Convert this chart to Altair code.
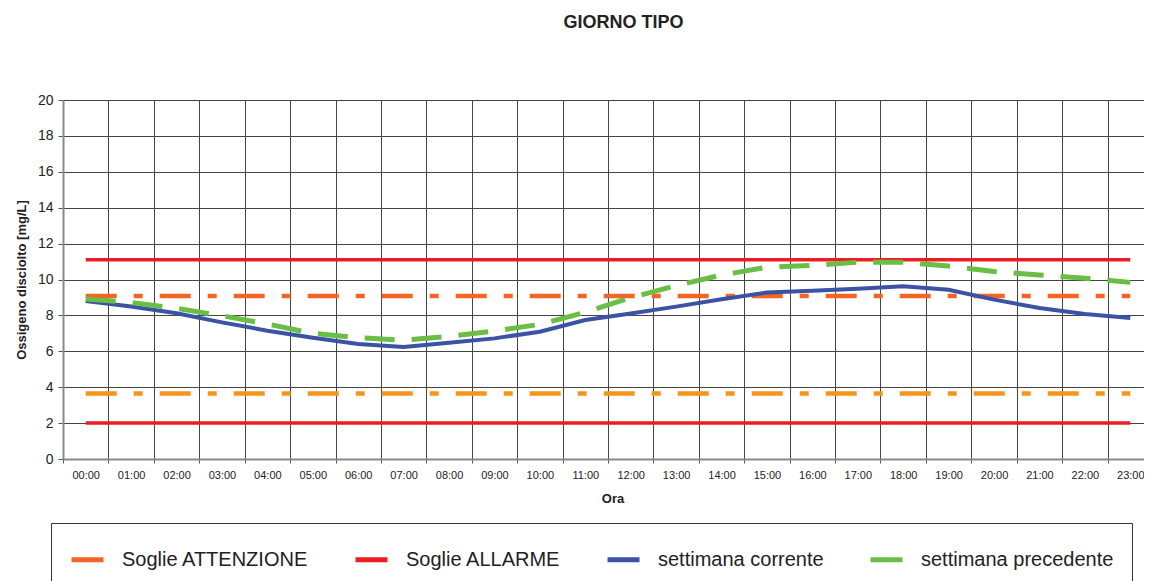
import altair as alt
import pandas as pd

# ---- data ----
ore = ["00:00", "01:00", "02:00", "03:00", "04:00", "05:00", "06:00", "07:00",
       "08:00", "09:00", "10:00", "11:00", "12:00", "13:00", "14:00", "15:00",
       "16:00", "17:00", "18:00", "19:00", "20:00", "21:00", "22:00", "23:00"]

settimana_corrente = [8.80, 8.49, 8.12, 7.61, 7.15, 6.76, 6.41, 6.24,
                      6.48, 6.72, 7.09, 7.74, 8.11, 8.49, 8.90, 9.27,
                      9.38, 9.49, 9.62, 9.43, 8.88, 8.41, 8.08, 7.86]

settimana_precedente = [8.91, 8.72, 8.39, 7.98, 7.52, 7.00, 6.76, 6.62,
                        6.83, 7.13, 7.50, 8.17, 8.99, 9.66, 10.25, 10.68,
                        10.79, 10.96, 10.96, 10.75, 10.44, 10.25, 10.07, 9.84]

soglia_attenzione_alta = 9.08
soglia_attenzione_bassa = 3.65
soglia_allarme_alta = 11.1
soglia_allarme_bassa = 2.0

legend_domain = ["Soglie ATTENZIONE", "Soglie ALLARME",
                 "settimana corrente", "settimana precedente"]
legend_colors = ["#F26522", "#ED1C24", "#3A53A4", "#6ABD45"]
colore_attenzione_bassa = "#F7941D"

# ---- tables ----
n = len(ore)
df_cor = pd.DataFrame({"ora": ore, "valore": settimana_corrente, "serie": "settimana corrente"})
df_pre = pd.DataFrame({"ora": ore, "valore": settimana_precedente, "serie": "settimana precedente"})
df_att = pd.DataFrame({"ora": ore, "valore": [soglia_attenzione_alta] * n, "serie": "Soglie ATTENZIONE"})
df_att_b = pd.DataFrame({"ora": ore, "valore": [soglia_attenzione_bassa] * n, "serie": "Soglie ATTENZIONE bassa"})
df_all = pd.concat([
    pd.DataFrame({"ora": ore, "valore": [soglia_allarme_alta] * n, "serie": "Soglie ALLARME", "linea": "alta"}),
    pd.DataFrame({"ora": ore, "valore": [soglia_allarme_bassa] * n, "serie": "Soglie ALLARME", "linea": "bassa"}),
])

FONT = "Liberation Sans"
PLOT_W = 1081       # visible part of the plot (the reference plot runs past the right edge)
BAND_EXTENT = 1090  # full extent of the 24 hourly bands

x = alt.X("ora:O", sort=ore,
          scale=alt.Scale(type="band", paddingInner=0, paddingOuter=0, range=[0, BAND_EXTENT]),
          axis=alt.Axis(title="Ora", tickBand="extent", labelAngle=0,
                        grid=True, gridColor="#444444", gridWidth=1,
                        domainColor="#8a8a8a", domainWidth=2,
                        tickColor="#555555", tickSize=4,
                        labelFontSize=11, labelPadding=6, labelColor="#222222",
                        titleFontSize=13, titleFontWeight="bold", titleColor="#222222",
                        titlePadding=12, titleX=549.5))

y = alt.Y("valore:Q",
          scale=alt.Scale(domain=[0, 20], nice=False),
          axis=alt.Axis(title="Ossigeno disciolto [mg/L]", values=list(range(0, 21, 2)),
                        grid=True, gridColor="#444444", gridWidth=1,
                        domainColor="#8a8a8a", domainWidth=2,
                        tickColor="#555555", tickSize=5,
                        labelFontSize=14, labelPadding=5, labelColor="#222222",
                        titleFontSize=13, titleFontWeight="bold", titleColor="#222222",
                        titlePadding=9))

legend = alt.Legend(title=None, orient="none", direction="horizontal",
                    legendX=-12, legendY=423, padding=18,
                    strokeColor="#333333", fillColor="white",
                    labelFontSize=20, labelFont=FONT, labelColor="#222222",
                    labelOffset=16, columnPadding=36,
                    symbolType="stroke", symbolSize=1024, symbolStrokeWidth=5,
                    symbolDash=[1, 0], labelLimit=400)

color = alt.Color("serie:N",
                  scale=alt.Scale(domain=legend_domain, range=legend_colors),
                  legend=legend)

l_all = alt.Chart(df_all).mark_line(strokeWidth=3.5).encode(
    x=x, y=y, color=color, detail="linea:N")
l_att = alt.Chart(df_att).mark_line(strokeWidth=4.5, strokeDash=[31, 17, 9, 17]).encode(
    x=x, y=y, color=color)
l_att_b = alt.Chart(df_att_b).mark_line(strokeWidth=4.5, strokeDash=[31, 17, 9, 17],
                                        color=colore_attenzione_bassa).encode(x=x, y=y)
l_cor = alt.Chart(df_cor).mark_line(strokeWidth=4).encode(x=x, y=y, color=color)
l_pre = alt.Chart(df_pre).mark_line(strokeWidth=5, strokeDash=[30, 17]).encode(
    x=x, y=y, color=color)

chart = alt.layer(l_all, l_att, l_att_b, l_cor, l_pre).properties(
    width=PLOT_W, height=359,
    autosize=alt.AutoSizeParams(type="none"),
    padding={"left": 55, "top": 92, "right": 0, "bottom": 122},
    title=alt.Title("GIORNO TIPO", fontSize=18, fontWeight="bold", anchor="middle",
                    color="#222222", offset=61, dx=20),
).configure(font=FONT).configure_view(stroke=None)

chart.save("out.html", embed_options={"renderer": "svg", "actions": False})
